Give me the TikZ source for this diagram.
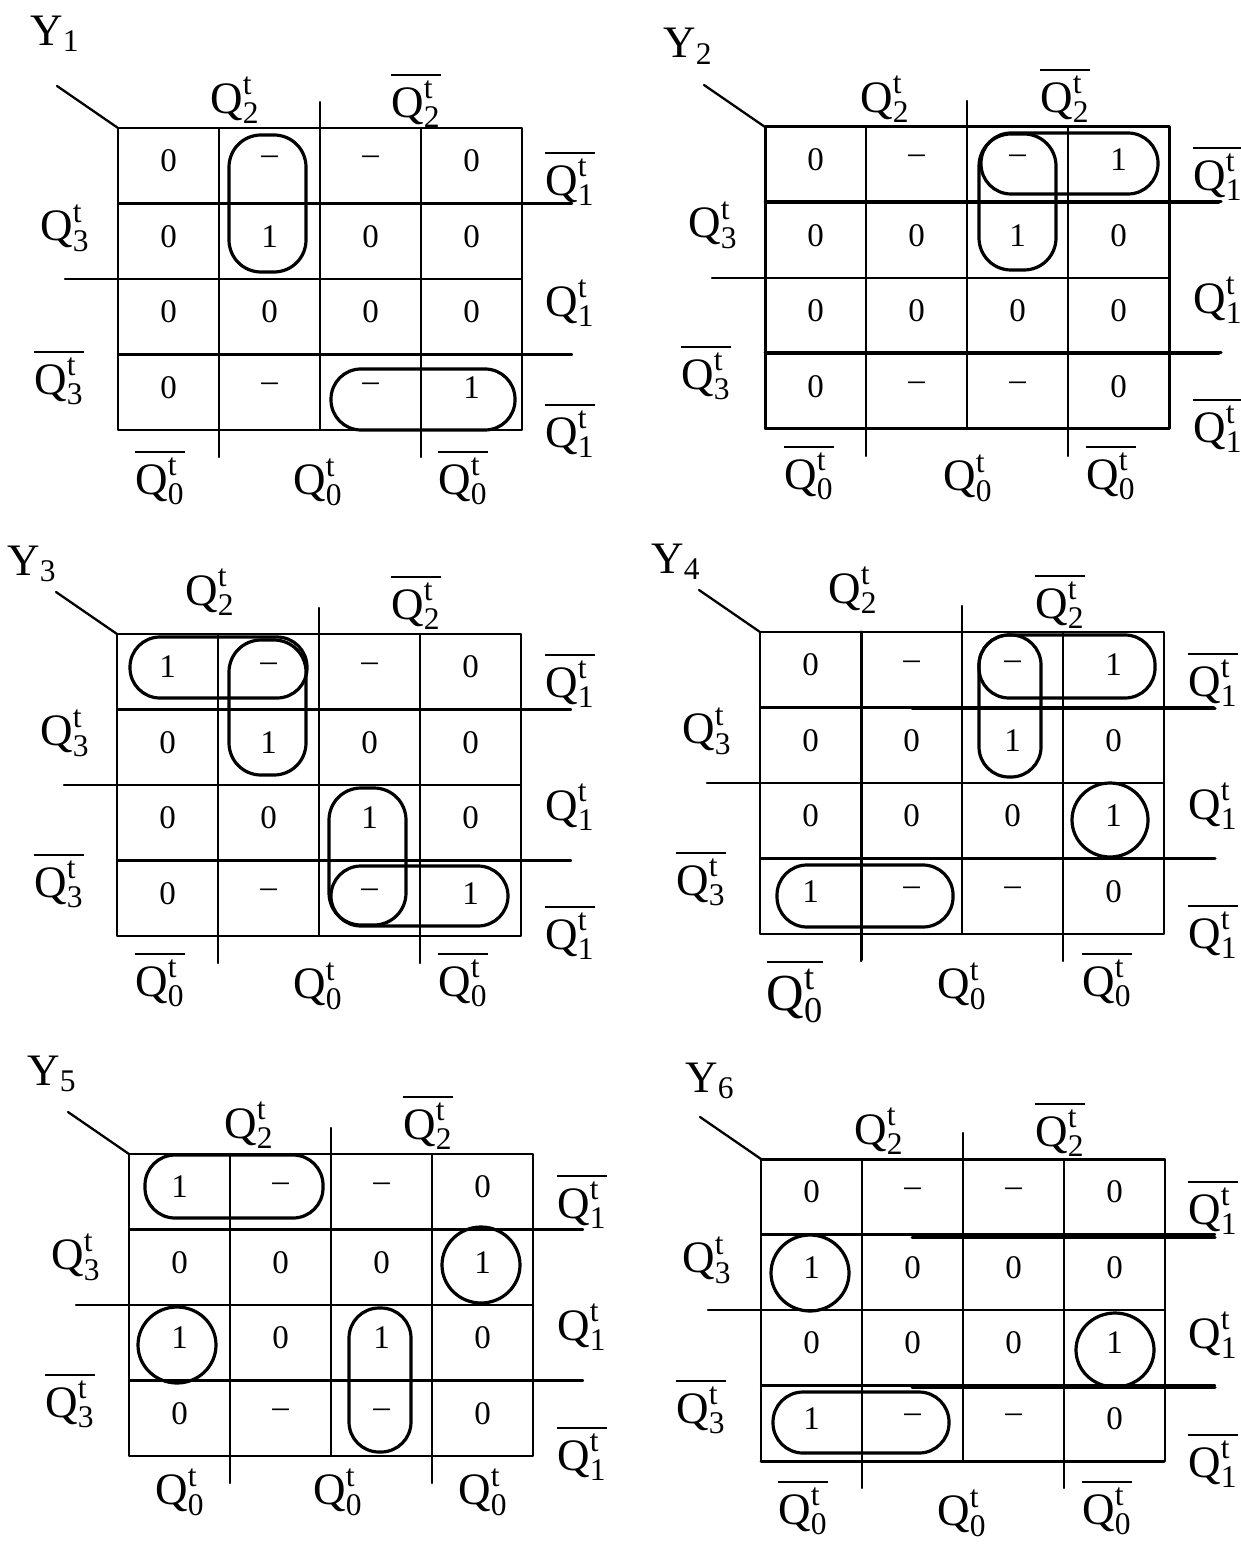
\documentclass[tikz,border=0pt]{standalone}
\usepackage{amsmath}
\usepackage{fontspec}
\setmainfont{Liberation Serif}
\newcommand{\Qt}[1]{$\text{Q}^{\text{t}}_{\text{#1}}$}
\newcommand{\Qb}[1]{$\overline{\text{Q}^{\text{t}}_{\text{#1}}}$}
\tikzset{
  kline/.style={line width=1.15pt},
  bold/.style={line width=1.5pt},
  grp/.style={line width=1.6pt},
  cell/.style={inner sep=0pt, yshift=2.5pt, font=\fontsize{16.5}{20}\selectfont},
  lab/.style={inner sep=0pt, font=\fontsize{22.5}{27}\selectfont},
}
\begin{document}
\begin{tikzpicture}[x=0.5pt,y=-0.5pt,line join=round,line cap=round]
  \useasboundingbox (0,0) rectangle (1240,1550);
  \fill[white] (0,0) rectangle (1240,1550);
  \def\cw{101} \def\ch{75.5}
  % one map: name, left, top, rows of values
  \def\kmap#1#2#3#4{%
    \coordinate (#1) at (#2,#3);
    \draw[kline] (#1) rectangle ++(4*\cw,4*\ch);
    \draw[kline] (#1) -- ++(-61,-42);
    \draw[kline] (#2+\cw,#3) -- ++(0,4*\ch+27);
    \draw[kline] (#2+2*\cw,#3-26) -- ++(0,4*\ch+26);
    \draw[kline] (#2+3*\cw,#3) -- ++(0,4*\ch+27);
    \draw[kline] (#2,#3+\ch) -- ++(4*\cw+50,0);
    \draw[kline] (#2-53,#3+2*\ch) -- ++(4*\cw+53,0);
    \draw[kline] (#2,#3+3*\ch) -- ++(4*\cw+50,0);
    \foreach \row [count=\r] in {#4}
      \foreach \v [count=\c] in \row
        \node[cell] (#1-\r\c) at ({#2+\cw*(\c-0.5)},{#3+\ch*(\r-0.5)}) {\v};
  }

  % Y1
  \kmap{y1}{118}{128}{{0,\textendash,\textendash,0},{0,1,0,0},{0,0,0,0},{0,\textendash,\textendash,1}}
  \node[lab] (y1-name) at (55,34) {Y$_{\text{1}}$};
  \node[lab] (y1-q2) at (235,100) {\Qt{2}};
  \node[lab] (y1-q2b) at (416,100) {\Qb{2}};
  \node[lab] (y1-q3) at (65,228) {\Qt{3}};
  \node[lab] (y1-q3b) at (59,377) {\Qb{3}};
  \node[lab] (y1-q1a) at (570,178) {\Qb{1}};
  \node[lab] (y1-q1) at (570,303) {\Qt{1}};
  \node[lab] (y1-q1b) at (570,430) {\Qb{1}};
  \node[lab] (y1-q0a) at (160,477) {\Qb{0}};
  \node[lab] (y1-q0) at (318,482) {\Qt{0}};
  \node[lab] (y1-q0b) at (463,477) {\Qb{0}};
  \draw[grp,rounded corners=16pt] (229,135) rectangle (306,272);
  \draw[grp,rounded corners=15pt] (331,369) rectangle (515,430);

  % Y2
  \kmap{y2}{765}{127}{{0,\textendash,\textendash,1},{0,0,1,0},{0,0,0,0},{0,\textendash,\textendash,0}}
  \draw[bold] (y2) rectangle ++(404,302);
  \draw[bold] (765,202) -- (1221,202);
  \draw[bold] (765,353) -- (1221,353);
  \node[lab] (y2-name) at (688,46) {Y$_{\text{2}}$};
  \node[lab] (y2-q2) at (885,99) {\Qt{2}};
  \node[lab] (y2-q2b) at (1065,95) {\Qb{2}};
  \node[lab] (y2-q3) at (713,225) {\Qt{3}};
  \node[lab] (y2-q3b) at (706,372) {\Qb{3}};
  \node[lab] (y2-q1a) at (1218,173) {\Qb{1}};
  \node[lab] (y2-q1) at (1218,300) {\Qt{1}};
  \node[lab] (y2-q1b) at (1218,425) {\Qb{1}};
  \node[lab] (y2-q0a) at (809,472) {\Qb{0}};
  \node[lab] (y2-q0) at (968,478) {\Qt{0}};
  \node[lab] (y2-q0b) at (1111,472) {\Qb{0}};
  \draw[grp,rounded corners=15pt] (981,133) rectangle (1158,194);
  \draw[grp,rounded corners=16pt] (979,134) rectangle (1056,270);

  % Y3
  \kmap{y3}{117}{634}{{1,\textendash,\textendash,0},{0,1,0,0},{0,0,1,0},{0,\textendash,\textendash,1}}
  \node[lab] (y3-name) at (32,564) {Y$_{\text{3}}$};
  \node[lab] (y3-q2) at (210,592) {\Qt{2}};
  \node[lab] (y3-q2b) at (416,602) {\Qb{2}};
  \node[lab] (y3-q3) at (65,733) {\Qt{3}};
  \node[lab] (y3-q3b) at (59,880) {\Qb{3}};
  \node[lab] (y3-q1a) at (570,680) {\Qb{1}};
  \node[lab] (y3-q1) at (570,807) {\Qt{1}};
  \node[lab] (y3-q1b) at (570,932) {\Qb{1}};
  \node[lab] (y3-q0a) at (160,979) {\Qb{0}};
  \node[lab] (y3-q0) at (318,986) {\Qt{0}};
  \node[lab] (y3-q0b) at (463,979) {\Qb{0}};
  \draw[grp,rounded corners=15pt] (130,637) rectangle (307,698);
  \draw[grp,rounded corners=16pt] (229,640) rectangle (306,775);
  \draw[grp,rounded corners=16pt] (329,788) rectangle (406,925);
  \draw[grp,rounded corners=15pt] (331,866) rectangle (508,926);

  % Y4
  \kmap{y4}{760}{632}{{0,\textendash,\textendash,1},{0,0,1,0},{0,0,0,1},{1,\textendash,\textendash,0}}
  \draw[bold] (861,632) -- (861,960);
  \draw[bold] (912,708) -- (1215,708);
  \draw[bold] (912,858) -- (1215,858);
  \node[lab] (y4-name) at (676,562) {Y$_{\text{4}}$};
  \node[lab] (y4-q2) at (853,590) {\Qt{2}};
  \node[lab] (y4-q2b) at (1060,601) {\Qb{2}};
  \node[lab] (y4-q3) at (707,731) {\Qt{3}};
  \node[lab] (y4-q3b) at (701,878) {\Qb{3}};
  \node[lab] (y4-q1a) at (1213,679) {\Qb{1}};
  \node[lab] (y4-q1) at (1213,806) {\Qt{1}};
  \node[lab] (y4-q1b) at (1213,931) {\Qb{1}};
  \node[lab,font=\fontsize{26}{30}\selectfont] (y4-q0a) at (795,991) {\Qb{0}};
  \node[lab] (y4-q0) at (962,986) {\Qt{0}};
  \node[lab] (y4-q0b) at (1107,979) {\Qb{0}};
  \draw[grp,rounded corners=15pt] (979,635) rectangle (1155,698);
  \draw[grp,rounded corners=15pt] (979,635) rectangle (1041,777);
  \draw[grp] (1110,820) ellipse [x radius=19pt, y radius=18.5pt];
  \draw[grp,rounded corners=15pt] (777,865) rectangle (953,927);

  % Y5
  \kmap{y5}{129}{1154}{{1,\textendash,\textendash,0},{0,0,0,1},{1,0,1,0},{0,\textendash,\textendash,0}}
  \node[lab] (y5-name) at (52,1074) {Y$_{\text{5}}$};
  \node[lab] (y5-q2) at (249,1125) {\Qt{2}};
  \node[lab] (y5-q2b) at (428,1122) {\Qb{2}};
  \node[lab] (y5-q3) at (76,1257) {\Qt{3}};
  \node[lab] (y5-q3b) at (70,1400) {\Qb{3}};
  \node[lab] (y5-q1a) at (582,1201) {\Qb{1}};
  \node[lab] (y5-q1) at (582,1327) {\Qt{1}};
  \node[lab] (y5-q1b) at (582,1453) {\Qb{1}};
  \node[lab] (y5-q0a) at (180,1492) {\Qt{0}};
  \node[lab] (y5-q0) at (338,1492) {\Qt{0}};
  \node[lab] (y5-q0b) at (483,1492) {\Qt{0}};
  \draw[grp,rounded corners=15pt] (145,1155) rectangle (323,1218);
  \draw[grp] (481,1265) ellipse [x radius=19.5pt, y radius=19pt];
  \draw[grp] (177,1345) ellipse [x radius=19.5pt, y radius=19pt];
  \draw[grp,rounded corners=15pt] (349,1308) rectangle (411,1452);

  % Y6
  \kmap{y6}{761}{1159}{{0,\textendash,\textendash,0},{1,0,0,0},{0,0,0,1},{1,\textendash,\textendash,0}}
  \draw[bold] (761,1159) -- (1164,1159);
  \draw[bold] (761,1461) -- (1164,1461);
  \draw[bold] (912,1237) -- (1215,1237);
  \draw[bold] (912,1387) -- (1215,1387);
  \node[lab] (y6-name) at (710,1081) {Y$_{\text{6}}$};
  \node[lab] (y6-q2) at (879,1131) {\Qt{2}};
  \node[lab] (y6-q2b) at (1060,1129) {\Qb{2}};
  \node[lab] (y6-q3) at (707,1260) {\Qt{3}};
  \node[lab] (y6-q3b) at (701,1406) {\Qb{3}};
  \node[lab] (y6-q1a) at (1213,1207) {\Qb{1}};
  \node[lab] (y6-q1) at (1213,1335) {\Qt{1}};
  \node[lab] (y6-q1b) at (1213,1460) {\Qb{1}};
  \node[lab] (y6-q0a) at (803,1507) {\Qb{0}};
  \node[lab] (y6-q0) at (962,1513) {\Qt{0}};
  \node[lab] (y6-q0b) at (1107,1507) {\Qb{0}};
  \draw[grp] (810,1273) ellipse [x radius=19.5pt, y radius=19pt];
  \draw[grp] (1115,1350) ellipse [x radius=19.5pt, y radius=18.5pt];
  \draw[grp,rounded corners=15pt] (773,1392) rectangle (949,1453);
\end{tikzpicture}
\end{document}
